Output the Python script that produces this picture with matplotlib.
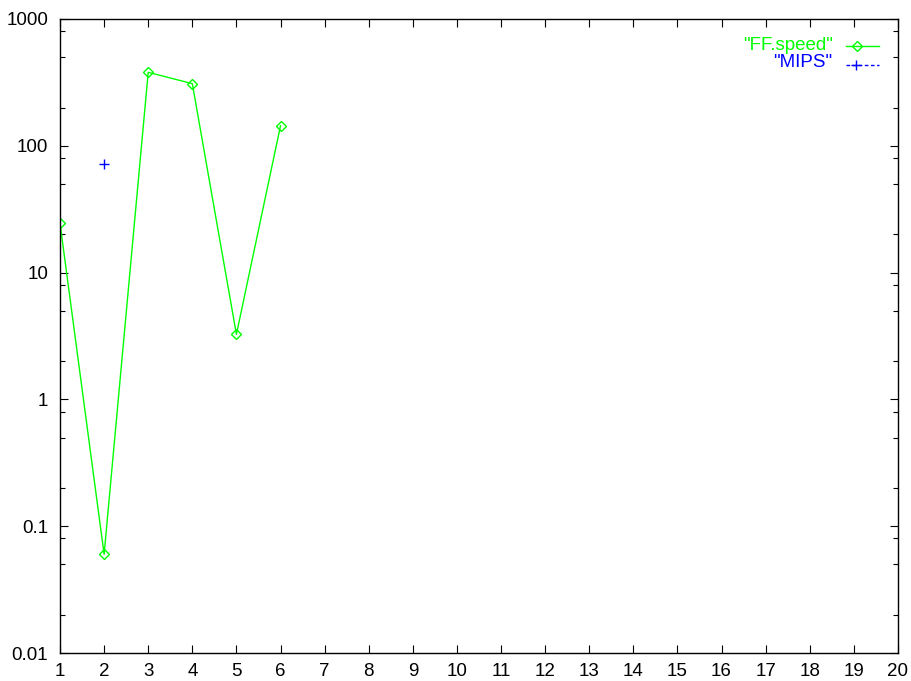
import matplotlib
matplotlib.use("Agg")
import matplotlib.pyplot as plt
import numpy as np
from matplotlib.ticker import FixedLocator, NullFormatter

plt.rcParams['font.family'] = ['Liberation Sans', 'DejaVu Sans']

# data
ff_x = [1, 2, 3, 4, 5, 6]
ff_speed = [24.5, 0.060, 380, 309, 3.26, 144]
mips_x = [2]
mips = [71.5]

x_ticks = list(range(1, 21))
y_ticks = [0.01, 0.1, 1, 10, 100, 1000]
y_labels = ["0.01", "0.1", "1", "10", "100", "1000"]

green = "#00ff00"
blue = "#0000ff"
fs = 13.5
dash = (0, (2.6, 1.8))

fig = plt.figure(figsize=(9.12, 6.81), dpi=100)
ax = fig.add_axes([0.0658, 0.0411, 0.9188, 0.9310])

ax.plot(ff_x, ff_speed, color=green, lw=1, marker="D", ms=5.5,
        mfc="none", mec=green, mew=1)
ax.plot(mips_x, mips, color=blue, lw=1, ls=dash, marker="+",
        ms=6.5, mew=1)

ax.set_yscale("log")
ax.set_xlim(1, 20)
ax.set_ylim(0.01, 1000)

ax.set_xticks(x_ticks)
ax.set_xticklabels([str(t) for t in x_ticks])
ax.set_yticks(y_ticks)
ax.set_yticklabels(y_labels)
minor = [m * 10.0 ** e for e in range(-2, 3) for m in (2, 5, 8)]
ax.yaxis.set_minor_locator(FixedLocator(minor))
ax.yaxis.set_minor_formatter(NullFormatter())
ax.xaxis.set_minor_locator(FixedLocator([]))

ax.tick_params(which="both", direction="in", top=True, right=True,
               labelsize=fs, width=0.8, colors="black")
ax.tick_params(which="major", length=5.8)
ax.tick_params(which="minor", length=3.6)
ax.tick_params(axis="y", which="major", pad=8.5)
ax.tick_params(axis="x", which="major", pad=7)
for s in ax.spines.values():
    s.set_linewidth(1)

# legend, gnuplot style: right-aligned text, sample to the right
tx = 0.922
y1, y2 = 0.958, 0.932
ax.text(tx, y1, '"FF.speed"', color=green, ha="right", va="center",
        fontsize=fs, transform=ax.transAxes)
ax.plot([0.938, 0.977], [y1, y1], color=green, lw=1,
        transform=ax.transAxes, clip_on=False)
ax.plot([0.951], [y1], color=green, marker="D", ms=5.5, mfc="none",
        mew=1, transform=ax.transAxes, clip_on=False)
ax.text(tx, y2, '"MIPS"', color=blue, ha="right", va="center",
        fontsize=fs, transform=ax.transAxes)
ax.plot([0.938, 0.977], [y2 - 0.004, y2 - 0.004], color=blue, lw=1,
        ls=dash, transform=ax.transAxes, clip_on=False)
ax.plot([0.950], [y2 - 0.004], color=blue, marker="+", ms=6.5, mew=1,
        transform=ax.transAxes, clip_on=False)

fig.savefig("out.png", dpi=100)
